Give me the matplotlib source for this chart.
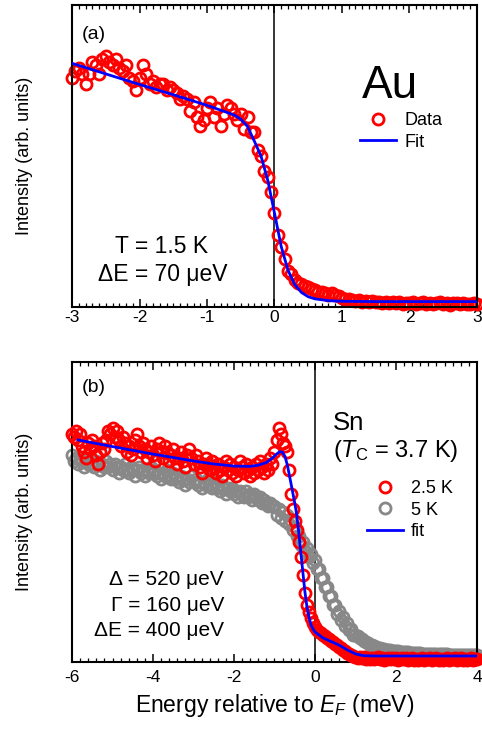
import numpy as np
import matplotlib.pyplot as plt

plt.rcParams['font.family'] = 'Liberation Sans'
plt.rcParams['mathtext.fontset'] = 'custom'
plt.rcParams['mathtext.rm'] = 'Liberation Sans'
plt.rcParams['mathtext.it'] = 'Liberation Sans:italic'
plt.rcParams['axes.unicode_minus'] = False

# ---- Au, T = 1.5 K ----
au_energy = np.linspace(-3.0, 3.0, 121)
au_data = [
    0.76, 0.78, 0.79, 0.77, 0.74, 0.77, 0.81, 0.80, 0.77, 0.82,
    0.83, 0.81, 0.80, 0.82, 0.79, 0.78, 0.80, 0.76, 0.75, 0.72,
    0.76, 0.80, 0.77, 0.74, 0.75, 0.73, 0.74, 0.74, 0.72, 0.73,
    0.72, 0.71, 0.69, 0.70, 0.69, 0.65, 0.68, 0.63, 0.60, 0.62,
    0.66, 0.68, 0.63, 0.66, 0.60, 0.64, 0.67, 0.66, 0.64, 0.62,
    0.64, 0.59, 0.63, 0.58, 0.58, 0.52, 0.50, 0.45, 0.43, 0.38,
    0.31, 0.24, 0.20, 0.16, 0.12, 0.11, 0.09, 0.08, 0.075, 0.07,
    0.065, 0.06, 0.055, 0.05, 0.05, 0.045, 0.04, 0.045, 0.04, 0.035,
    0.030, 0.025, 0.028, 0.022, 0.020, 0.024, 0.018, 0.021, 0.016, 0.019,
    0.015, 0.018, 0.014, 0.017, 0.013, 0.016, 0.012, 0.015, 0.011, 0.014,
    0.012, 0.015, 0.010, 0.013, 0.016, 0.011, 0.014, 0.009, 0.012, 0.015,
    0.010, 0.013, 0.008, 0.012, 0.014, 0.010, 0.013, 0.009, 0.011, 0.014,
    0.010,
]
au_fit_energy = [-3.0, -2.5, -2.0, -1.5, -1.0, -0.8, -0.6, -0.5, -0.4, -0.3,
                 -0.2, -0.1, 0.0, 0.1, 0.2, 0.3, 0.4, 0.5, 0.6, 0.8,
                 1.0, 1.5, 2.0, 3.0]
au_fit = [0.807, 0.772, 0.737, 0.703, 0.668, 0.652, 0.636, 0.622, 0.598, 0.550,
          0.500, 0.420, 0.311, 0.200, 0.122, 0.074, 0.048, 0.034, 0.027, 0.021,
          0.019, 0.018, 0.018, 0.018]

# ---- Sn, 2.5 K and 5 K ----
sn_energy = np.linspace(-6.0, 4.0, 201)
sn_25K = [
    0.76, 0.75, 0.77, 0.74, 0.76, 0.72, 0.70, 0.68, 0.73, 0.71,
    0.74, 0.72, 0.69, 0.66, 0.70, 0.73, 0.71, 0.74, 0.77, 0.76,
    0.78, 0.75, 0.77, 0.74, 0.72, 0.75, 0.73, 0.70, 0.72, 0.69,
    0.71, 0.74, 0.76, 0.72, 0.70, 0.73, 0.71, 0.68, 0.70, 0.72,
    0.69, 0.67, 0.71, 0.73, 0.70, 0.68, 0.72, 0.70, 0.67, 0.69,
    0.71, 0.68, 0.66, 0.68, 0.70, 0.67, 0.65, 0.69, 0.71, 0.68,
    0.66, 0.69, 0.67, 0.65, 0.63, 0.66, 0.68, 0.66, 0.64, 0.67,
    0.65, 0.63, 0.66, 0.64, 0.62, 0.65, 0.67, 0.64, 0.66, 0.63,
    0.65, 0.62, 0.64, 0.67, 0.65, 0.63, 0.66, 0.64, 0.62, 0.65,
    0.63, 0.66, 0.64, 0.67, 0.65, 0.63, 0.66, 0.64, 0.68, 0.66,
    0.70, 0.74, 0.78, 0.76, 0.73, 0.72, 0.70, 0.64, 0.56, 0.51,
    0.47, 0.44, 0.40, 0.35, 0.29, 0.23, 0.19, 0.165, 0.145, 0.13,
    0.115, 0.105, 0.10, 0.095, 0.09, 0.085, 0.08, 0.075, 0.07, 0.065,
    0.06, 0.055, 0.05, 0.045, 0.04, 0.035, 0.03, 0.027, 0.024, 0.02,
    0.018, 0.014, 0.016, 0.012, 0.015, 0.011, 0.013, 0.010, 0.014, 0.009,
    0.012, 0.015, 0.010, 0.013, 0.008, 0.011, 0.014, 0.009, 0.012, 0.010,
    0.013, 0.008, 0.011, 0.014, 0.009, 0.012, 0.007, 0.010, 0.013, 0.008,
    0.011, 0.006, 0.010, 0.013, 0.008, 0.011, 0.009, 0.012, 0.007, 0.010,
    0.013, 0.008, 0.011, 0.006, 0.010, 0.013, 0.008, 0.011, 0.009, 0.012,
    0.007, 0.010, 0.013, 0.008, 0.011, 0.006, 0.009, 0.012, 0.008, 0.010,
    0.009,
]
sn_5K = [
    0.69, 0.67, 0.68, 0.66, 0.68, 0.67, 0.65, 0.67, 0.66, 0.68,
    0.66, 0.65, 0.67, 0.66, 0.64, 0.66, 0.65, 0.67, 0.65, 0.66,
    0.64, 0.66, 0.65, 0.63, 0.65, 0.64, 0.66, 0.64, 0.63, 0.65,
    0.64, 0.62, 0.64, 0.65, 0.63, 0.64, 0.62, 0.64, 0.63, 0.65,
    0.63, 0.64, 0.62, 0.63, 0.61, 0.63, 0.62, 0.64, 0.62, 0.61,
    0.63, 0.61, 0.62, 0.60, 0.62, 0.61, 0.59, 0.61, 0.60, 0.62,
    0.60, 0.61, 0.59, 0.60, 0.58, 0.60, 0.59, 0.61, 0.59, 0.58,
    0.60, 0.58, 0.59, 0.57, 0.59, 0.58, 0.56, 0.58, 0.57, 0.58,
    0.56, 0.57, 0.55, 0.57, 0.56, 0.55, 0.57, 0.55, 0.56, 0.54,
    0.56, 0.55, 0.54, 0.55, 0.53, 0.54, 0.53, 0.52, 0.53, 0.52,
    0.52, 0.49, 0.51, 0.48, 0.50, 0.47, 0.49, 0.46, 0.47, 0.44,
    0.45, 0.42, 0.42, 0.39, 0.40, 0.37, 0.38, 0.35, 0.36, 0.33,
    0.34, 0.31, 0.31, 0.28, 0.28, 0.25, 0.25, 0.22, 0.22, 0.19,
    0.19, 0.16, 0.17, 0.14, 0.15, 0.12, 0.13, 0.105, 0.11, 0.09,
    0.09, 0.085, 0.08, 0.075, 0.07, 0.066, 0.062, 0.058, 0.055, 0.052,
    0.05, 0.048, 0.046, 0.044, 0.042, 0.041, 0.04, 0.039, 0.038, 0.037,
    0.036, 0.035, 0.034, 0.034, 0.033, 0.032, 0.032, 0.031, 0.031, 0.030,
    0.030, 0.029, 0.029, 0.028, 0.028, 0.028, 0.027, 0.027, 0.027, 0.026,
    0.026, 0.026, 0.025, 0.025, 0.025, 0.025, 0.024, 0.024, 0.024, 0.024,
    0.023, 0.023, 0.023, 0.023, 0.023, 0.022, 0.022, 0.022, 0.022, 0.022,
    0.022,
]
sn_fit_energy = [-5.85, -5.0, -4.0, -3.0, -2.5, -2.0, -1.6, -1.4, -1.2, -1.05,
                 -0.95, -0.87, -0.80, -0.74, -0.68, -0.60, -0.50, -0.45, -0.40, -0.35,
                 -0.30, -0.25, -0.20, -0.15, -0.10, -0.05, 0.0, 0.2, 0.4, 0.6,
                 0.8, 1.0, 1.2, 1.5, 2.0, 4.0]
sn_fit = [0.740, 0.718, 0.693, 0.670, 0.660, 0.653, 0.652, 0.656, 0.665, 0.680,
          0.693, 0.701, 0.699, 0.685, 0.655, 0.600, 0.530, 0.490, 0.430, 0.365,
          0.300, 0.235, 0.185, 0.150, 0.125, 0.110, 0.100, 0.080, 0.068, 0.056,
          0.040, 0.027, 0.021, 0.020, 0.020, 0.020]

red = '#ff0000'
grey = '#888888'
blue = '#0000ff'
circ = dict(ls='none', marker='o', mfc='none', ms=8.0, mew=2.0, clip_on=False)


def style_axes(ax, major, minor, pad):
    for s in ax.spines.values():
        s.set_linewidth(1.5)
    ax.set_yticks([])
    ax.set_ylim(0, 1)
    ax.xaxis.set_major_locator(plt.MultipleLocator(major))
    ax.xaxis.set_minor_locator(plt.MultipleLocator(minor))
    ax.tick_params(axis='x', which='both', direction='in', top=True, bottom=True)
    ax.tick_params(axis='x', which='major', length=5.5, width=1.1,
                   labelsize=12.5, pad=pad)
    ax.tick_params(axis='x', which='minor', length=3, width=0.9)
    ax.set_ylabel('Intensity (arb. units)', fontsize=13, labelpad=28)


fig = plt.figure(figsize=(4.82, 7.31), dpi=100)
ax1 = fig.add_axes([0.1494, 0.580, 0.8402, 0.4131])
ax2 = fig.add_axes([0.1494, 0.0944, 0.8402, 0.4104])

# (a) gold reference
ax1.axvline(0, color='black', lw=1.1, zorder=1)
d1, = ax1.plot(au_energy, au_data, color=red, mec=red, zorder=2, **circ)
f1, = ax1.plot(au_fit_energy, au_fit, color=blue, lw=2, zorder=3)
ax1.set_xlim(-3, 3)
style_axes(ax1, 1, 0.1, 2)
ax1.text(-2.85, 0.887, '(a)', fontsize=14)
ax1.text(1.30, 0.692, 'Au', fontsize=33)
ax1.text(-1.68, 0.179, 'T = 1.5 K', fontsize=16.5, ha='center')
ax1.text(-1.66, 0.086, 'ΔE = 70 μeV', fontsize=16.5, ha='center')
ax1.legend([d1, f1], ['Data', 'Fit'], loc='upper left', bbox_to_anchor=(0.711, 0.645),
           frameon=False, fontsize=13, handlelength=2.0, handletextpad=0.45,
           labelspacing=0.25, borderpad=0, borderaxespad=0, numpoints=1)

# (b) tin above and below Tc
ax2.axvline(0, color='black', lw=1.1, zorder=1)
d5, = ax2.plot(sn_energy, sn_5K, color=grey, mec=grey, zorder=2, **circ)
d25, = ax2.plot(sn_energy, sn_25K, color=red, mec=red, zorder=3, **circ)
f2, = ax2.plot(sn_fit_energy, sn_fit, color=blue, lw=2, zorder=4)
ax2.set_xlim(-6, 4)
style_axes(ax2, 2, 0.2, 6)
ax2.text(-5.75, 0.90, '(b)', fontsize=14)
ax2.text(0.44, 0.773, 'Sn', fontsize=18.5)
ax2.text(0.44, 0.683, r'($T_{\mathrm{C}}$ = 3.7 K)', fontsize=17)
ax2.text(-2.25, 0.257, 'Δ = 520 μeV', fontsize=15, ha='right')
ax2.text(-2.25, 0.171, 'Γ = 160 μeV', fontsize=15, ha='right')
ax2.text(-2.25, 0.087, 'ΔE = 400 μeV', fontsize=15, ha='right')
ax2.legend([d25, d5, f2], ['2.5 K', '5 K', 'fit'], loc='upper left',
           bbox_to_anchor=(0.728, 0.606), frameon=False, fontsize=13,
           handlelength=2.0, handletextpad=0.45, labelspacing=0.25,
           borderpad=0, borderaxespad=0, numpoints=1)
ax2.set_xlabel(r'Energy relative to $E_F$ (meV)', fontsize=16.5, labelpad=5)

fig.savefig('out.png', dpi=100)
